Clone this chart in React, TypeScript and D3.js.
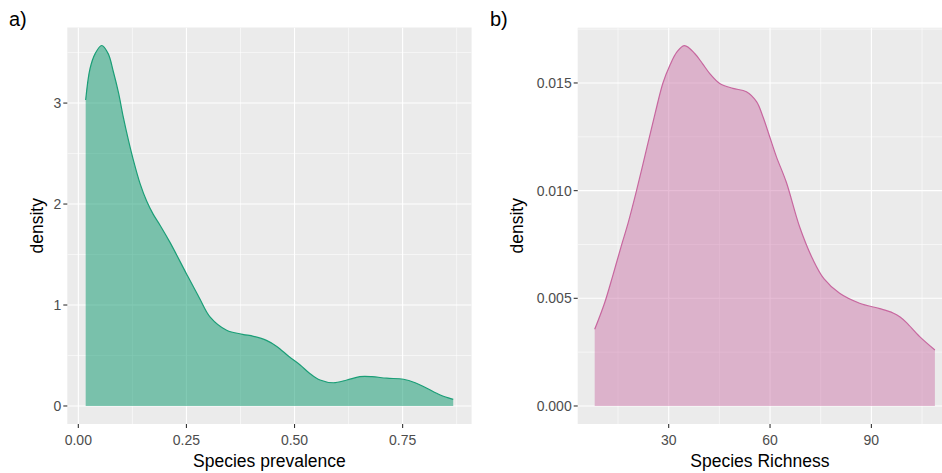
import React from "react";
import * as d3 from "d3";

// Panel a) Species prevalence density
const prevX = [0.017, 0.027, 0.039, 0.054, 0.069, 0.081, 0.093, 0.104, 0.116, 0.127, 0.143, 0.158, 0.173, 0.189, 0.212, 0.25, 0.28, 0.305, 0.343, 0.38, 0.405, 0.435, 0.459, 0.487, 0.513, 0.536, 0.559, 0.59, 0.621, 0.651, 0.679, 0.713, 0.752, 0.779, 0.806, 0.837, 0.867];
const prevDensity = [3.03, 3.34, 3.49, 3.57, 3.49, 3.31, 3.1, 2.86, 2.63, 2.44, 2.2, 2.03, 1.9, 1.79, 1.62, 1.31, 1.07, 0.88, 0.75, 0.71, 0.69, 0.65, 0.59, 0.49, 0.406, 0.32, 0.257, 0.23, 0.257, 0.29, 0.29, 0.275, 0.265, 0.23, 0.175, 0.109, 0.066];
const prevXTicks = [0, 0.25, 0.5, 0.75];
const prevXTickLabels = ["0.00", "0.25", "0.50", "0.75"];
const prevXMinor = [0.125, 0.375, 0.625, 0.875];
const prevYTicks = [0, 1, 2, 3];
const prevYTickLabels = ["0", "1", "2", "3"];
const prevYMinor = [0.5, 1.5, 2.5, 3.5];

// Panel b) Species richness density
const richX = [8.1, 11.0, 13.5, 16.0, 18.0, 20.4, 23.4, 26.0, 28.3, 30.3, 32.5, 34.7, 37.7, 40.0, 42.1, 45.1, 49.0, 53.0, 56.0, 57.9, 59.9, 61.9, 64.8, 68.8, 72.7, 76.0, 80.6, 86.5, 92.5, 96.4, 98.5, 100.4, 104.3, 108.8];
const richDensity = [0.00356, 0.00477, 0.00608, 0.00745, 0.0085, 0.00995, 0.0119, 0.0136, 0.015, 0.0158, 0.01645, 0.01673, 0.01637, 0.0159, 0.01545, 0.01498, 0.01475, 0.01459, 0.01413, 0.01343, 0.0125, 0.01157, 0.0104, 0.0083, 0.0068, 0.0059, 0.00523, 0.00477, 0.00452, 0.00432, 0.00413, 0.00387, 0.00322, 0.0026];
const richXTicks = [30, 60, 90];
const richXTickLabels = ["30", "60", "90"];
const richXMinor = [15, 45, 75, 105];
const richYTicks = [0, 0.005, 0.01, 0.015];
const richYTickLabels = ["0.000", "0.005", "0.010", "0.015"];
const richYMinor = [0.0025, 0.0075, 0.0125, 0.0175];

const W = 942;
const H = 473;
const FONT = "Liberation Sans, Arial, sans-serif";

type PanelProps = {
  tag: string;
  tagX: number;
  xs: number[];
  ys: number[];
  left: number;
  right: number;
  top: number;
  bottom: number;
  xTicks: number[];
  xTickLabels: string[];
  xMinor: number[];
  yTicks: number[];
  yTickLabels: string[];
  yMinor: number[];
  xTitle: string;
  yTitleX: number;
  lineColor: string;
  fillColor: string;
  fillOpacity: number;
  clipId: string;
};

function Panel(p: PanelProps) {
  const xmin = d3.min(p.xs)!;
  const xmax = d3.max(p.xs)!;
  const xpad = (xmax - xmin) * 0.05;
  const ymax = d3.max(p.ys)!;
  const ypad = ymax * 0.05;
  const x = d3.scaleLinear().domain([xmin - xpad, xmax + xpad]).range([p.left, p.right]);
  const y = d3.scaleLinear().domain([-ypad, ymax + ypad]).range([p.bottom, p.top]);
  const pts: [number, number][] = p.xs.map((v, i) => [v, p.ys[i]]);
  const curve = d3.curveCatmullRom.alpha(0.5);
  const area = d3
    .area<[number, number]>()
    .x((d) => x(d[0]))
    .y0(() => y(0))
    .y1((d) => y(d[1]))
    .curve(curve);
  const line = d3
    .line<[number, number]>()
    .x((d) => x(d[0]))
    .y((d) => y(d[1]))
    .curve(curve);
  const pw = p.right - p.left;
  const ph = p.bottom - p.top;
  const cx = p.left + Math.min(pw, W - p.left) / 2;
  return (
    <g>
      <defs>
        <clipPath id={p.clipId}>
          <rect x={p.left} y={p.top} width={pw} height={ph} />
        </clipPath>
      </defs>
      <text x={p.tagX} y={26} fontSize={20} fontFamily={FONT} fill="#000">
        {p.tag}
      </text>
      <rect x={p.left} y={p.top} width={pw} height={ph} fill="#EBEBEB" />
      <g clipPath={`url(#${p.clipId})`}>
        {p.xMinor.map((v) => (
          <line key={"xm" + v} x1={x(v)} x2={x(v)} y1={p.top} y2={p.bottom} stroke="#fff" strokeWidth={0.55} />
        ))}
        {p.yMinor.map((v) => (
          <line key={"ym" + v} x1={p.left} x2={p.right} y1={y(v)} y2={y(v)} stroke="#fff" strokeWidth={0.55} />
        ))}
        {p.xTicks.map((v) => (
          <line key={"xM" + v} x1={x(v)} x2={x(v)} y1={p.top} y2={p.bottom} stroke="#fff" strokeWidth={1.1} />
        ))}
        {p.yTicks.map((v) => (
          <line key={"yM" + v} x1={p.left} x2={p.right} y1={y(v)} y2={y(v)} stroke="#fff" strokeWidth={1.1} />
        ))}
        <path d={area(pts) || ""} fill={p.fillColor} fillOpacity={p.fillOpacity} />
        <path d={line(pts) || ""} fill="none" stroke={p.lineColor} strokeWidth={1.2} />
      </g>
      {p.yTicks.map((v, i) => (
        <g key={"yt" + v}>
          <line x1={p.left - 4} x2={p.left} y1={y(v)} y2={y(v)} stroke="#333" strokeWidth={1.1} />
          <text x={p.left - 6} y={y(v)} dy="0.36em" textAnchor="end" fontSize={14} fontFamily={FONT} fill="#4D4D4D">
            {p.yTickLabels[i]}
          </text>
        </g>
      ))}
      {p.xTicks.map((v, i) => (
        <g key={"xt" + v}>
          <line x1={x(v)} x2={x(v)} y1={p.bottom} y2={p.bottom + 4} stroke="#333" strokeWidth={1.1} />
          <text x={x(v)} y={p.bottom + 21} textAnchor="middle" fontSize={14} fontFamily={FONT} fill="#4D4D4D">
            {p.xTickLabels[i]}
          </text>
        </g>
      ))}
      <text x={cx} y={467} textAnchor="middle" fontSize={17.5} fontFamily={FONT} fill="#000">
        {p.xTitle}
      </text>
      <text
        transform={`translate(${p.yTitleX},${(p.top + p.bottom) / 2}) rotate(-90)`}
        textAnchor="middle"
        fontSize={17.5}
        fontFamily={FONT}
        fill="#000"
      >
        density
      </text>
    </g>
  );
}

export default function App() {
  return (
    <div style={{ position: "absolute", left: 0, top: 0 }}>
      <svg width={W} height={H} style={{ display: "block", background: "#fff" }}>
        <Panel
          tag="a)"
          tagX={9}
          xs={prevX}
          ys={prevDensity}
          left={67.3}
          right={471.6}
          top={27.5}
          bottom={424}
          xTicks={prevXTicks}
          xTickLabels={prevXTickLabels}
          xMinor={prevXMinor}
          yTicks={prevYTicks}
          yTickLabels={prevYTickLabels}
          yMinor={prevYMinor}
          xTitle="Species prevalence"
          yTitleX={43}
          lineColor="#1B9E77"
          fillColor="#1B9E77"
          fillOpacity={0.55}
          clipId="clipA"
        />
        <Panel
          tag="b)"
          tagX={490}
          xs={richX}
          ys={richDensity}
          left={577.7}
          right={951.9}
          top={27.7}
          bottom={424}
          xTicks={richXTicks}
          xTickLabels={richXTickLabels}
          xMinor={richXMinor}
          yTicks={richYTicks}
          yTickLabels={richYTickLabels}
          yMinor={richYMinor}
          xTitle="Species Richness"
          yTitleX={523}
          lineColor="#C7679F"
          fillColor="#C7679F"
          fillOpacity={0.43}
          clipId="clipB"
        />
      </svg>
    </div>
  );
}
